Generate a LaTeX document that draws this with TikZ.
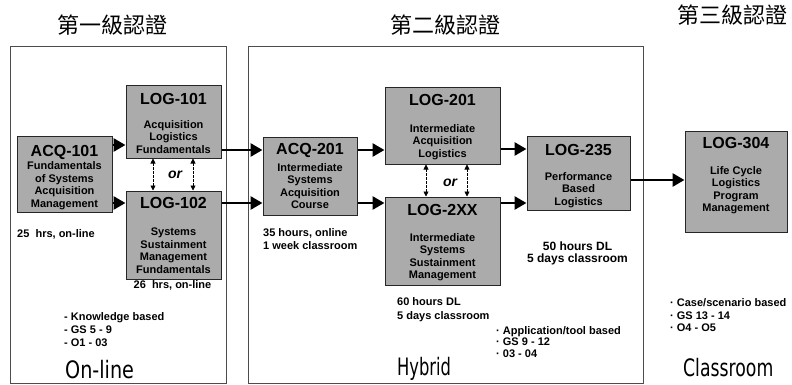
\documentclass[tikz,border=0pt]{standalone}
\usepackage{fontspec}
\setmainfont{Liberation Sans}
\newfontfamily\cjk{Noto Sans CJK TC}
\newfontfamily\bigsans{DejaVu Sans}
\usetikzlibrary{arrows.meta}
\begin{document}
\begin{tikzpicture}[x=1pt,y=-1pt,
  panel/.style={draw=black!70, line width=0.7pt, inner sep=0, anchor=north west},
  box/.style={draw=black!85, line width=1pt, fill=black!33, inner sep=0},
  ttl/.style={font=\bfseries\fontsize{16}{16}\selectfont, inner sep=0},
  sub/.style={font=\bfseries\fontsize{11}{12.5}\selectfont, align=center, inner sep=0},
  note/.style={font=\bfseries\fontsize{11}{13}\selectfont, align=left, inner sep=0, anchor=west},
  cnote/.style={font=\bfseries\fontsize{11}{14}\selectfont, align=center, inner sep=0},
  head/.style={font=\cjk\fontsize{22}{22}\selectfont, inner sep=0},
  big/.style={font=\bigsans\fontsize{24}{24}\selectfont, inner sep=0, anchor=west},
  orlab/.style={font=\bfseries\itshape\fontsize{14}{14}\selectfont, inner sep=0},
  arr/.style={line width=2.8pt, -{Triangle[length=12pt,width=13pt]}},
  alt/.style={line width=0.7pt, dash pattern=on 2.5pt off 1.5pt, {Triangle[length=5pt,width=5pt]}-{Triangle[length=5pt,width=5pt]}}]
\useasboundingbox (0,0) rectangle (792,385);

% panels
\node[panel, minimum width=216pt, minimum height=337pt] (p1) at (10,46) {};
\node[panel, minimum width=395pt, minimum height=337pt] (p2) at (248,46) {};

% headings
\node[head] (h1) at (112,25) {第一級認證};
\node[head] (h2) at (445,25) {第二級認證};
\node[head] (h3) at (732,15) {第三級認證};

% boxes
\node[box, minimum width=95pt, minimum height=75pt] (acq101) at (64.5,174.5) {};
\node[ttl] (acq101t) at (64.5,152) {ACQ-101};
\node[sub] (acq101s) at (64.5,185.5) {Fundamentals\\of Systems\\Acquisition\\Management};

\node[box, minimum width=95pt, minimum height=72pt] (log101) at (173.5,122) {};
\node[ttl] (log101t) at (173.5,99) {LOG-101};
\node[sub] (log101s) at (173.5,137) {Acquisition\\Logistics\\Fundamentals};

\node[box, minimum width=95pt, minimum height=88pt] (log102) at (173.5,235) {};
\node[ttl] (log102t) at (173.5,203) {LOG-102};
\node[sub] (log102s) at (173.5,250.5) {Systems\\Sustainment\\Management\\Fundamentals};

\node[box, minimum width=94pt, minimum height=77pt] (acq201) at (310,176.5) {};
\node[ttl] (acq201t) at (310,150) {ACQ-201};
\node[sub] (acq201s) at (310,186) {Intermediate\\Systems\\Acquisition\\Course};

\node[box, minimum width=115pt, minimum height=76pt] (log201) at (442.5,126) {};
\node[ttl] (log201t) at (442.5,100) {LOG-201};
\node[sub] (log201s) at (442.5,142) {Intermediate\\Acquisition\\Logistics};

\node[box, minimum width=115pt, minimum height=88pt] (log2xx) at (442.5,241) {};
\node[ttl] (log2xxt) at (442.5,210) {LOG-2XX};
\node[sub] (log2xxs) at (442.5,257) {Intermediate\\Systems\\Sustainment\\Management};

\node[box, minimum width=103pt, minimum height=73pt] (log235) at (578.5,173.5) {};
\node[ttl] (log235t) at (578.5,150) {LOG-235};
\node[sub] (log235s) at (578.5,190) {Performance\\Based\\Logistics};

\node[box, minimum width=102pt, minimum height=100pt] (log304) at (736,182) {};
\node[ttl] (log304t) at (736,143) {LOG-304};
\node[sub] (log304s) at (736,190) {Life Cycle\\Logistics\\Program\\Management};

% arrows
\draw[arr] ([yshift=29.5pt]acq101.east) -- ([yshift=-23pt]log101.west);
\draw[arr] ([yshift=-28.5pt]acq101.east) -- ([yshift=32pt]log102.west);
\draw[arr] ([yshift=-28pt]log101.east) -- ([yshift=26.5pt]acq201.west);
\draw[arr] ([yshift=32pt]log102.east) -- ([yshift=-26.5pt]acq201.west);
\draw[arr] ([yshift=26.5pt]acq201.east) -- ([yshift=-24pt]log201.west);
\draw[arr] ([yshift=-26.5pt]acq201.east) -- ([yshift=38pt]log2xx.west);
\draw[arr] ([yshift=-23pt]log201.east) -- ([yshift=24.5pt]log235.west);
\draw[arr] ([yshift=38pt]log2xx.east) -- ([yshift=-29.5pt]log235.west);
\draw[arr] ([yshift=-6.5pt]log235.east) -- ([yshift=2pt]log304.west);

% alternatives
\draw[alt] ([xshift=-20.5pt]log101.south) -- ([xshift=-20.5pt]log102.north);
\draw[alt] ([xshift=19.5pt]log101.south) -- ([xshift=19.5pt]log102.north);
\node[orlab] (or1) at (175,175) {or};
\draw[alt] ([xshift=-16.5pt]log201.south) -- ([xshift=-16.5pt]log2xx.north);
\draw[alt] ([xshift=24.5pt]log201.south) -- ([xshift=24.5pt]log2xx.north);
\node[orlab] (or2) at (450,183) {or};

% notes
\node[note] (n1) at (17,234) {25~ hrs, on-line};
\node[cnote] (n2) at (172.5,285.5) {26~ hrs, on-line};
\node[note] (n3) at (64,330) {- Knowledge based\\- GS 5 - 9\\- O1 - 03};
\node[big, xscale=0.8] (b1) at (65,370) {On-line};

\node[note, font=\bfseries\fontsize{11}{13}\selectfont] (n4) at (263,239) {35 hours, online\\1 week classroom};
\node[note, font=\bfseries\fontsize{11}{14}\selectfont] (n5) at (397,310) {60 hours DL\\5 days classroom};
\node[cnote, font=\bfseries\fontsize{12}{12}\selectfont] (n6) at (577.5,253.5) {50 hours DL\\5 days classroom};
\node[note, font=\bfseries\fontsize{11}{11.2}\selectfont] (n7) at (496,342) {· Application/tool based\\· GS 9 - 12\\· 03 - 04};
\node[big, xscale=0.68] (b2) at (397,369) {Hybrid};

\node[note, font=\bfseries\fontsize{11}{12.5}\selectfont] (n8) at (670,315.5) {· Case/scenario based\\· GS 13 - 14\\· O4 - O5};
\node[big, xscale=0.72] (b3) at (683,368) {Classroom};
\end{tikzpicture}
\end{document}
